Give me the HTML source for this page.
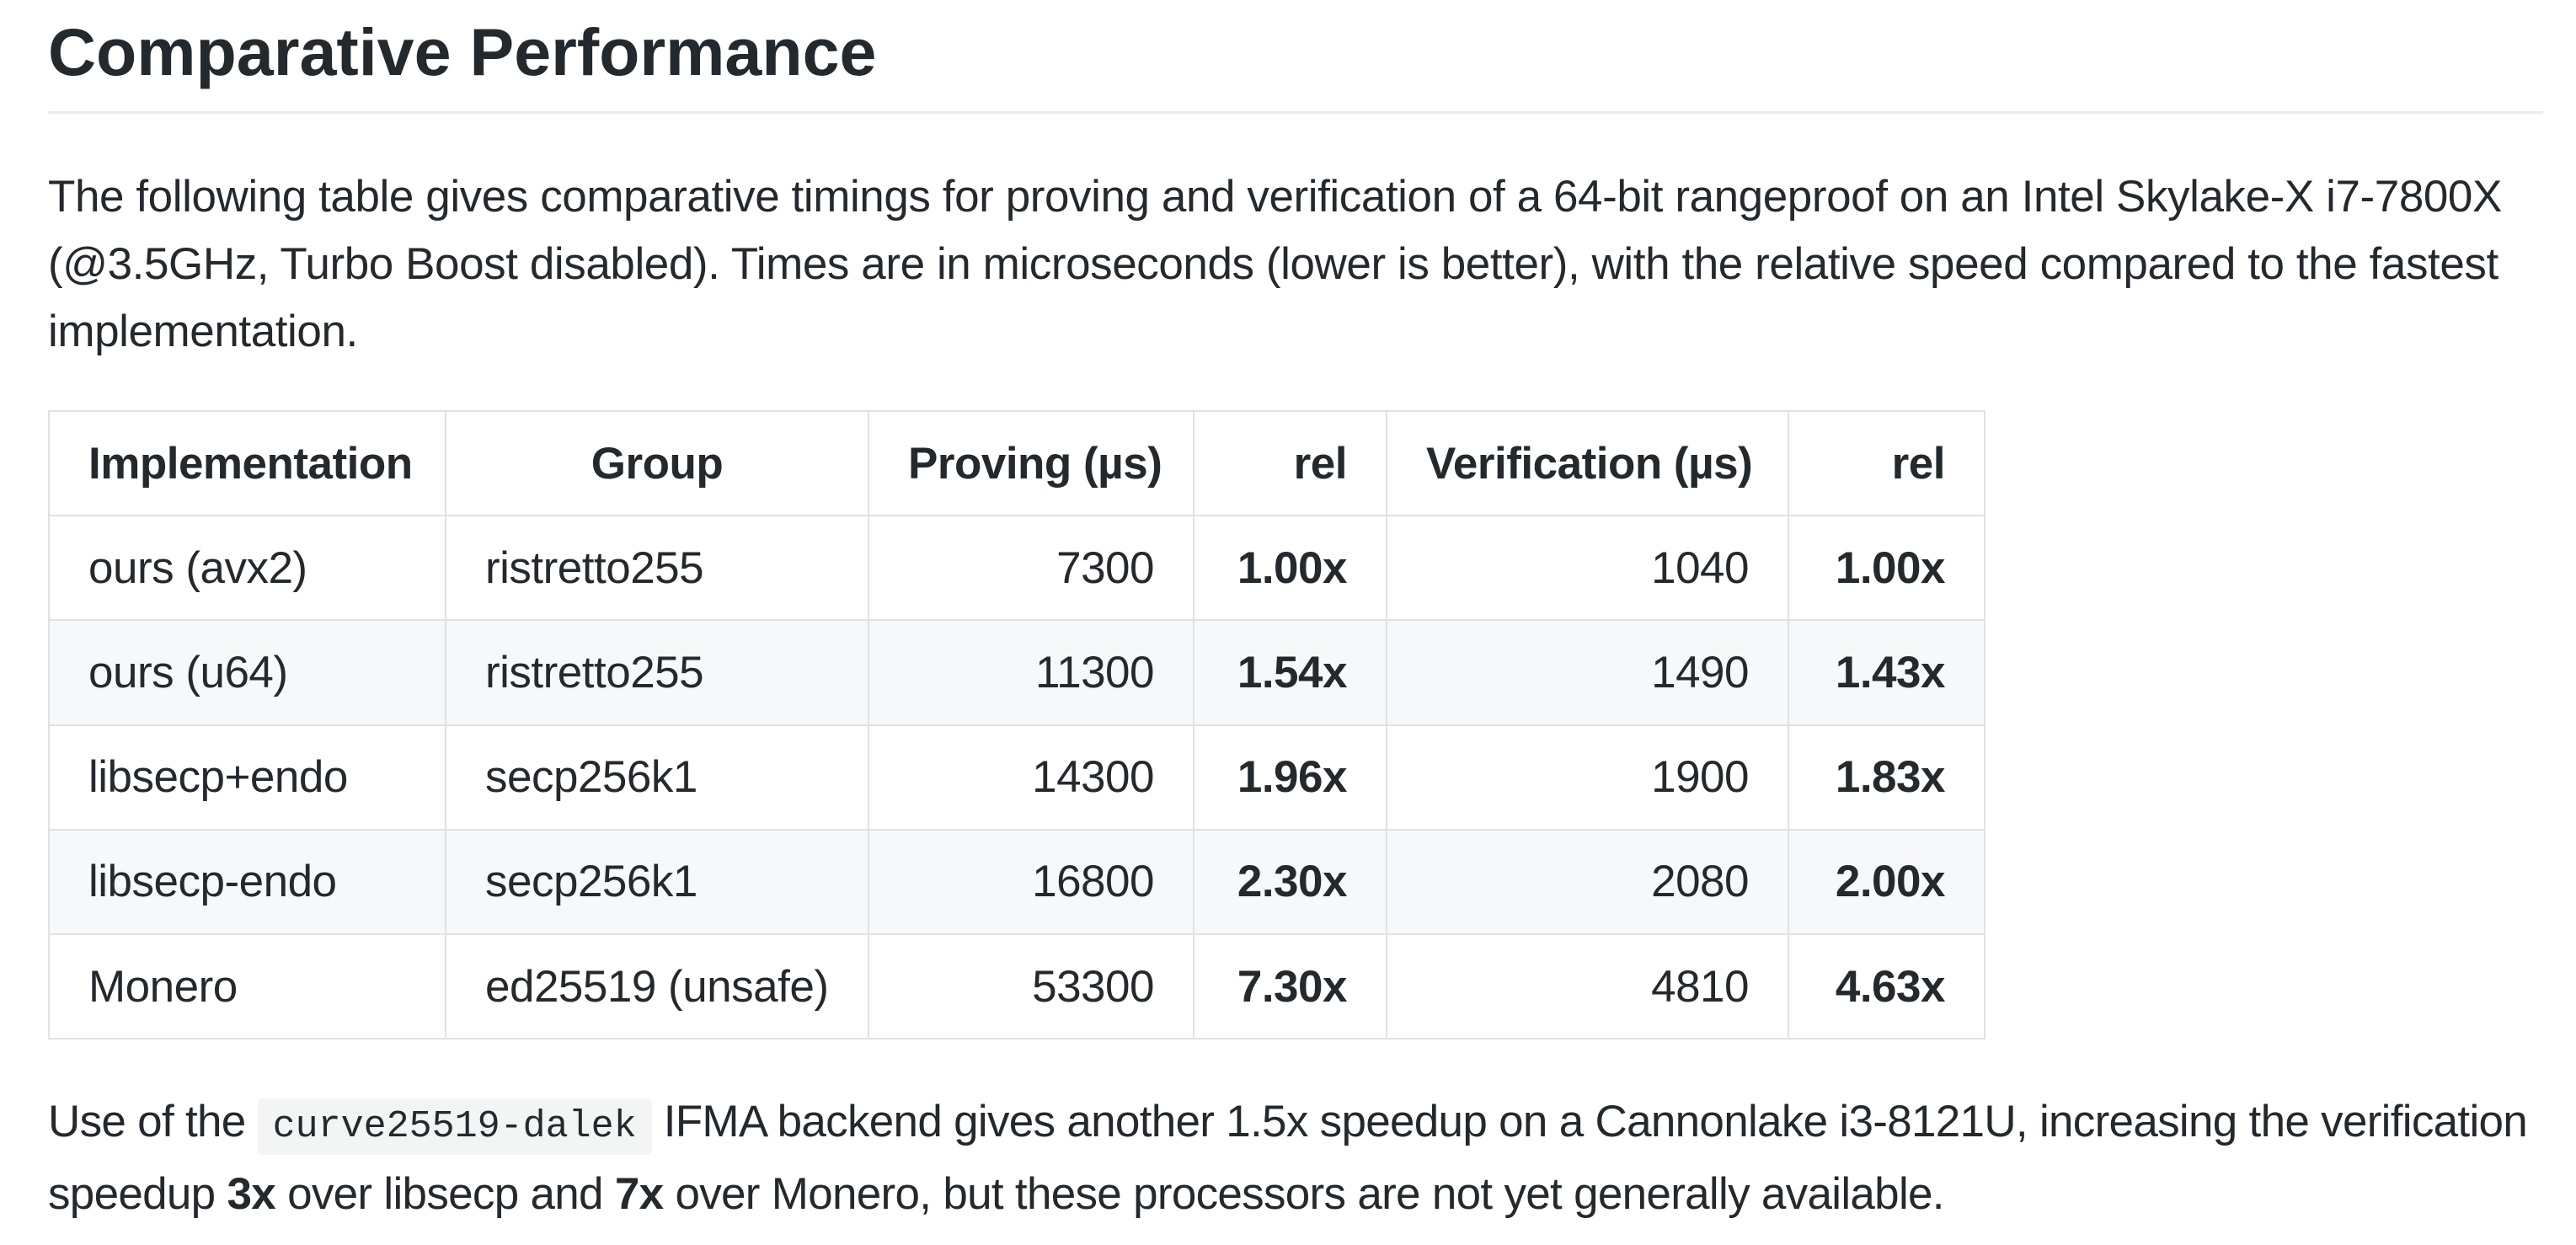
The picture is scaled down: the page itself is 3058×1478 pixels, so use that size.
<!DOCTYPE html>
<html><head><meta charset="utf-8">
<style>
body{margin:0;width:3058px;height:1478px;background:#fff;color:#24292e;font-family:"Liberation Sans",sans-serif;position:relative;overflow:hidden}
h2{position:absolute;left:57px;top:12px;margin:0;font-size:79px;line-height:100px;font-weight:bold;white-space:nowrap}
.rule{position:absolute;left:57px;top:132px;width:2962px;height:3px;background:#eaecef}
p{position:absolute;left:57px;margin:0;font-size:53px;line-height:80px;white-space:nowrap;letter-spacing:-0.7px}
p.intro{letter-spacing:-0.42px}
table{position:absolute;left:57px;top:487px;border-collapse:collapse;table-layout:fixed;width:2298px;font-size:53px;letter-spacing:-0.5px}
td,th{border:2.5px solid #dfe2e5;height:122.2px;padding:0 46px;white-space:nowrap}
th{font-weight:bold}
tr.alt td{background:#f6f8fa}
.r{text-align:right}.c{text-align:center}.l{text-align:left}
b{font-weight:bold}
code{font-family:"Liberation Mono",monospace;font-size:45px;letter-spacing:0;background:#f3f4f4;border-radius:6px;padding:8px 18px}
</style></head><body>
<h2>Comparative Performance</h2>
<div class="rule"></div>
<p class="intro" style="top:194px">The following table gives comparative timings for proving and verification of a 64-bit rangeproof on an Intel Skylake-X i7-7800X<br>(@3.5GHz, Turbo Boost disabled). Times are in microseconds (lower is better), with the relative speed compared to the fastest<br>implementation.</p>
<table>
<colgroup><col style="width:471px"><col style="width:502px"><col style="width:386px"><col style="width:229px"><col style="width:477px"><col style="width:233px"></colgroup>
<tr><th class="l">Implementation</th><th class="c">Group</th><th class="r">Proving (µs)</th><th class="r">rel</th><th class="r">Verification (µs)</th><th class="r">rel</th></tr>
<tr><td>ours (avx2)</td><td>ristretto255</td><td class="r">7300</td><td class="r"><b>1.00x</b></td><td class="r">1040</td><td class="r"><b>1.00x</b></td></tr>
<tr class="alt"><td>ours (u64)</td><td>ristretto255</td><td class="r">11300</td><td class="r"><b>1.54x</b></td><td class="r">1490</td><td class="r"><b>1.43x</b></td></tr>
<tr><td>libsecp+endo</td><td>secp256k1</td><td class="r">14300</td><td class="r"><b>1.96x</b></td><td class="r">1900</td><td class="r"><b>1.83x</b></td></tr>
<tr class="alt"><td>libsecp-endo</td><td>secp256k1</td><td class="r">16800</td><td class="r"><b>2.30x</b></td><td class="r">2080</td><td class="r"><b>2.00x</b></td></tr>
<tr><td>Monero</td><td>ed25519 (unsafe)</td><td class="r">53300</td><td class="r"><b>7.30x</b></td><td class="r">4810</td><td class="r"><b>4.63x</b></td></tr>
</table>
<p style="top:1292px">Use of the <code>curve25519-dalek</code> IFMA backend gives another 1.5x speedup on a Cannonlake i3-8121U, increasing the verification<br>speedup <b>3x</b> over libsecp and <b>7x</b> over Monero, but these processors are not yet generally available.</p>
</body></html>
